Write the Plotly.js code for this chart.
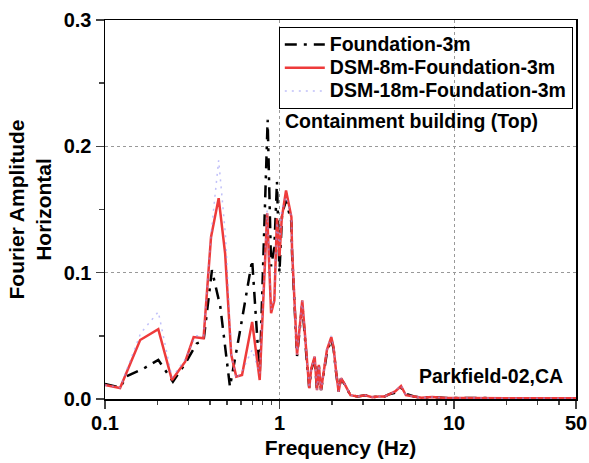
<!DOCTYPE html>
<html>
<head>
<meta charset="utf-8">
<script src="https://cdn.plot.ly/plotly-3.0.1.min.js"></script>
<style>html,body{margin:0;padding:0;background:#fff;}#chart{width:589px;height:463px;}</style>
</head>
<body>
<div id="chart"></div>
<script>
// Foundation-3m (black dash-dot)
const foundFreq = [0.1, 0.122, 0.133, 0.166, 0.202, 0.245, 0.288, 0.336, 0.367, 0.41, 0.458, 0.52, 0.596, 0.697, 0.77, 0.855, 0.895, 0.934, 0.967, 0.999, 1.035, 1.09, 1.17, 1.18, 1.26, 1.35, 1.43, 1.48, 1.52, 1.59, 1.64, 1.68, 1.73, 1.79, 1.87, 1.98, 2.04, 2.11, 2.18, 2.25, 2.35, 2.55, 2.8, 3.1, 3.4, 3.7, 4.0, 4.3, 4.6, 4.97, 5.3, 5.9, 6.5, 7.5, 9, 12, 16, 20, 30, 50];
const foundAmp  = [0.012, 0.009, 0.018, 0.024, 0.031, 0.0137, 0.028, 0.044, 0.046, 0.102, 0.073, 0.0097, 0.055, 0.11, 0.019, 0.221, 0.105, 0.12, 0.172, 0.1, 0.147, 0.157, 0.14, 0.115, 0.034, 0.075, 0.032, 0.009, 0.023, 0.032, 0.007, 0.026, 0.007, 0.022, 0.037, 0.047, 0.04, 0.021, 0.006, 0.016, 0.012, 0.003, 0.002, 0.003, 0.0015, 0.002, 0.002, 0.004, 0.005, 0.009, 0.004, 0.002, 0.001, 0.0015, 0.0008, 0.0008, 0.0005, 0.0006, 0.0005, 0.0005];

// DSM-8m-Foundation-3m (red solid)
const dsm8Freq = [0.1, 0.122, 0.159, 0.202, 0.242, 0.288, 0.322, 0.367, 0.405, 0.448, 0.488, 0.529, 0.565, 0.61, 0.697, 0.77, 0.85, 0.895, 0.934, 0.967, 1.0, 1.03, 1.09, 1.17, 1.18, 1.26, 1.35, 1.43, 1.48, 1.52, 1.59, 1.64, 1.68, 1.73, 1.79, 1.87, 1.98, 2.04, 2.11, 2.18, 2.25, 2.35, 2.55, 2.8, 3.1, 3.4, 3.7, 4.0, 4.3, 4.6, 4.97, 5.3, 5.9, 6.5, 7.5, 9, 12, 16, 20, 30, 50];
const dsm8Amp  = [0.011, 0.0087, 0.0467, 0.0552, 0.015, 0.0295, 0.049, 0.048, 0.128, 0.159, 0.115, 0.035, 0.0177, 0.019, 0.061, 0.015, 0.147, 0.068, 0.078, 0.143, 0.113, 0.143, 0.165, 0.144, 0.118, 0.035, 0.078, 0.0335, 0.0085, 0.024, 0.0335, 0.007, 0.027, 0.007, 0.023, 0.039, 0.049, 0.041, 0.0216, 0.0058, 0.0164, 0.0124, 0.003, 0.002, 0.003, 0.0015, 0.002, 0.002, 0.004, 0.006, 0.0103, 0.003, 0.002, 0.001, 0.0015, 0.0008, 0.0008, 0.0005, 0.0006, 0.0005, 0.0005];

// DSM-18m-Foundation-3m (light dotted)
const dsm18Freq = [0.1, 0.122, 0.16, 0.202, 0.242, 0.29, 0.33, 0.367, 0.405, 0.448, 0.49, 0.53, 0.565, 0.61, 0.697, 0.77, 0.85, 0.895, 0.934, 0.967, 1.0, 1.03, 1.09, 1.17, 1.18, 1.26, 1.35, 1.43, 1.48, 1.52, 1.59, 1.64, 1.68, 1.73, 1.79, 1.87, 1.98, 2.04, 2.11, 2.18, 2.25, 2.35, 2.55, 2.8, 3.1, 3.4, 3.7, 4.0, 4.3, 4.6, 4.97, 5.3, 5.9, 6.5, 7.5, 9, 12, 16, 20, 30, 50];
const dsm18Amp  = [0.011, 0.009, 0.052, 0.069, 0.017, 0.032, 0.05, 0.05, 0.13, 0.189, 0.13, 0.035, 0.016, 0.022, 0.039, 0.02, 0.15, 0.07, 0.08, 0.14, 0.12, 0.15, 0.16, 0.145, 0.118, 0.035, 0.078, 0.0335, 0.0085, 0.024, 0.0335, 0.007, 0.027, 0.007, 0.023, 0.039, 0.05, 0.041, 0.0216, 0.0058, 0.0164, 0.0124, 0.003, 0.002, 0.003, 0.0015, 0.002, 0.002, 0.004, 0.006, 0.011, 0.003, 0.002, 0.001, 0.0015, 0.0008, 0.0008, 0.0005, 0.0006, 0.0005, 0.0005];

const seriesNames = ["Foundation-3m", "DSM-8m-Foundation-3m", "DSM-18m-Foundation-3m"];
const xTickVals = [0.1, 1, 10, 50];
const xTickText = ["0.1", "1", "10", "50"];
const xMinorVals = [0.2, 0.3, 0.4, 0.5, 0.6, 0.7, 0.8, 0.9, 2, 3, 4, 5, 6, 7, 8, 9, 20, 30, 40];
const yTickVals = [0, 0.1, 0.2, 0.3];
const yTickText = ["0.0", "0.1", "0.2", "0.3"];
const yMinorVals = [0.05, 0.15, 0.25];

const FONT = "Liberation Sans, Arial, sans-serif";
const legName = n => '<span style="font-size:19.5px">' + n + '</span>';

const traces = [
  {x: foundFreq, y: foundAmp, name: legName(seriesNames[0]), mode: "lines",
   line: {color: "#000000", width: 2.5, dash: "12px,7px,3px,7px"}},
  {x: dsm8Freq, y: dsm8Amp, name: legName(seriesNames[1]), mode: "lines",
   line: {color: "#ee3b3b", width: 2.5}},
  {x: dsm18Freq, y: dsm18Amp, name: legName(seriesNames[2]), mode: "lines",
   line: {color: "rgba(150,150,245,0.6)", width: 1.5, dash: "2px,5px"}}
];

const layout = {
  width: 589, height: 463,
  margin: {l: 105, r: 13, t: 20, b: 64},
  paper_bgcolor: "#ffffff", plot_bgcolor: "#ffffff",
  font: {family: FONT, size: 20, color: "#000", weight: "bold"},
  showlegend: true,
  legend: {x: 0.369, y: 0.9815, xanchor: "left", yanchor: "top",
    bgcolor: "rgba(0,0,0,0)", bordercolor: "#000", borderwidth: 1,
    itemwidth: 40,
    font: {family: FONT, size: 15.5, weight: "bold"}},
  xaxis: {type: "log", range: [Math.log10(0.1), Math.log10(50)],
    tickvals: xTickVals, ticktext: xTickText, ticks: "outside", ticklen: 8, tickwidth: 1.5,
    ticklabelstandoff: -3,
    showline: true, linecolor: "#000", linewidth: 1.5, mirror: true,
    showgrid: true, gridcolor: "#999", griddash: "dot", gridwidth: 1,
    zeroline: false,
    minor: {tickvals: xMinorVals, ticks: "outside", ticklen: 4, tickwidth: 1.5, showgrid: false},
    title: {text: "Frequency (Hz)", font: {family: FONT, size: 21, weight: "bold"}, standoff: 8},
    tickfont: {family: FONT, size: 20, weight: "bold"}},
  yaxis: {range: [0, 0.3], tickvals: yTickVals, ticktext: yTickText,
    ticks: "outside", ticklen: 8, tickwidth: 1.5,
    showline: true, linecolor: "#000", linewidth: 1.5, mirror: true,
    showgrid: true, gridcolor: "#999", griddash: "dot", gridwidth: 1,
    zeroline: false,
    minor: {tickvals: yMinorVals, ticks: "outside", ticklen: 5, tickwidth: 1.5, showgrid: false},
    title: {text: "Fourier Amplitude<br>Horizontal", font: {family: FONT, size: 21, weight: "bold"}, standoff: 6},
    tickfont: {family: FONT, size: 20, weight: "bold"}},
  annotations: [
    {text: "Containment building (Top)", xref: "paper", yref: "paper", x: 0.378, y: 0.7335,
     xanchor: "left", yanchor: "middle", showarrow: false, font: {family: FONT, size: 19.5, weight: "bold"}},
    {text: "Parkfield-02,CA", xref: "paper", yref: "paper", x: 0.9766, y: 0.0607,
     xanchor: "right", yanchor: "middle", showarrow: false, font: {family: FONT, size: 19.5, weight: "bold"}}
  ]
};

Plotly.newPlot("chart", traces, layout, {displayModeBar: false, staticPlot: true});
</script>
</body>
</html>
